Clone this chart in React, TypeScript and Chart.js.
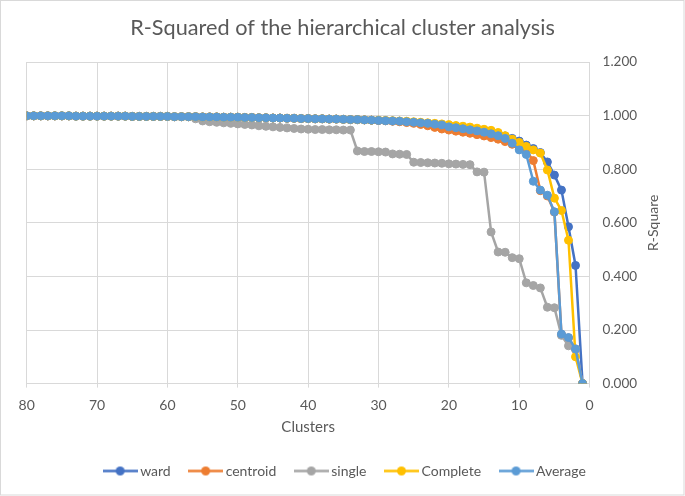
import React, { useEffect, useRef } from 'react';
import { Chart, registerables } from 'chart.js';

Chart.register(...registerables);

const chartTitle = 'R-Squared of the hierarchical cluster analysis';
const xTitle = 'Clusters';
const yTitle = 'R-Square';
const seriesNames = ['ward', 'centroid', 'single', 'Complete', 'Average'];
const seriesColors = ['#4472C4', '#ED7D31', '#A5A5A5', '#FFC000', '#5B9BD5'];

const clusters = [
  80, 79, 78, 77, 76, 75, 74, 73, 72, 71,
  70, 69, 68, 67, 66, 65, 64, 63, 62, 61,
  60, 59, 58, 57, 56, 55, 54, 53, 52, 51,
  50, 49, 48, 47, 46, 45, 44, 43, 42, 41,
  40, 39, 38, 37, 36, 35, 34, 33, 32, 31,
  30, 29, 28, 27, 26, 25, 24, 23, 22, 21,
  20, 19, 18, 17, 16, 15, 14, 13, 12, 11,
  10, 9, 8, 7, 6, 5, 4, 3, 2, 1,
];

const ward = [
  0.999, 0.999, 0.999, 0.999, 0.999, 0.999, 0.999, 0.998, 0.998, 0.998,
  0.998, 0.998, 0.998, 0.998, 0.998, 0.997, 0.997, 0.997, 0.997, 0.997,
  0.997, 0.996, 0.996, 0.996, 0.996, 0.995, 0.995, 0.995, 0.994, 0.994,
  0.994, 0.993, 0.993, 0.992, 0.992, 0.991, 0.991, 0.990, 0.990, 0.989,
  0.989, 0.988, 0.988, 0.987, 0.987, 0.986, 0.985, 0.985, 0.984, 0.983,
  0.982, 0.981, 0.980, 0.979, 0.977, 0.975, 0.973, 0.971, 0.968, 0.965,
  0.962, 0.958, 0.955, 0.951, 0.947, 0.942, 0.937, 0.931, 0.924, 0.915,
  0.905, 0.890, 0.877, 0.862, 0.827, 0.778, 0.722, 0.585, 0.441, 0.000,
];

const centroid = [
  0.999, 0.999, 0.999, 0.999, 0.999, 0.999, 0.999, 0.998, 0.998, 0.998,
  0.998, 0.998, 0.998, 0.998, 0.998, 0.997, 0.997, 0.997, 0.997, 0.997,
  0.997, 0.996, 0.996, 0.996, 0.996, 0.995, 0.995, 0.995, 0.994, 0.994,
  0.994, 0.993, 0.993, 0.992, 0.992, 0.991, 0.991, 0.990, 0.990, 0.989,
  0.989, 0.988, 0.988, 0.987, 0.987, 0.986, 0.985, 0.985, 0.984, 0.983,
  0.982, 0.981, 0.979, 0.977, 0.974, 0.971, 0.967, 0.962, 0.956, 0.950,
  0.946, 0.942, 0.938, 0.934, 0.929, 0.924, 0.918, 0.912, 0.903, 0.893,
  0.882, 0.868, 0.832, 0.720, 0.700, 0.640, 0.183, 0.170, 0.128, 0.000,
];

const single = [
  0.999, 0.999, 0.999, 0.999, 0.999, 0.999, 0.999, 0.998, 0.998, 0.998,
  0.998, 0.998, 0.998, 0.998, 0.998, 0.997, 0.997, 0.997, 0.997, 0.997,
  0.997, 0.996, 0.996, 0.996, 0.988, 0.980, 0.977, 0.975, 0.973, 0.971,
  0.969, 0.967, 0.965, 0.962, 0.960, 0.958, 0.956, 0.954, 0.952, 0.950,
  0.949, 0.948, 0.948, 0.947, 0.947, 0.946, 0.946, 0.868, 0.866, 0.866,
  0.865, 0.864, 0.857, 0.856, 0.855, 0.826, 0.825, 0.824, 0.823, 0.822,
  0.820, 0.819, 0.818, 0.817, 0.790, 0.789, 0.566, 0.491, 0.490, 0.470,
  0.466, 0.376, 0.366, 0.357, 0.285, 0.283, 0.180, 0.141, 0.130, 0.000,
];

const complete = [
  0.999, 0.999, 0.999, 0.999, 0.999, 0.999, 0.999, 0.998, 0.998, 0.998,
  0.998, 0.998, 0.998, 0.998, 0.998, 0.997, 0.997, 0.997, 0.997, 0.997,
  0.997, 0.996, 0.996, 0.996, 0.996, 0.995, 0.995, 0.995, 0.994, 0.994,
  0.994, 0.993, 0.993, 0.992, 0.992, 0.991, 0.991, 0.990, 0.990, 0.989,
  0.989, 0.988, 0.988, 0.987, 0.987, 0.986, 0.985, 0.985, 0.984, 0.983,
  0.983, 0.982, 0.981, 0.980, 0.979, 0.977, 0.975, 0.973, 0.971, 0.969,
  0.966, 0.963, 0.960, 0.957, 0.953, 0.949, 0.945, 0.937, 0.925, 0.912,
  0.900, 0.885, 0.872, 0.860, 0.797, 0.692, 0.646, 0.535, 0.100, 0.000,
];

const average = [
  0.999, 0.999, 0.999, 0.999, 0.999, 0.999, 0.999, 0.998, 0.998, 0.998,
  0.998, 0.998, 0.998, 0.998, 0.998, 0.997, 0.997, 0.997, 0.997, 0.997,
  0.997, 0.996, 0.996, 0.996, 0.996, 0.995, 0.995, 0.995, 0.994, 0.994,
  0.994, 0.993, 0.993, 0.992, 0.992, 0.991, 0.991, 0.990, 0.990, 0.989,
  0.989, 0.988, 0.988, 0.987, 0.987, 0.986, 0.985, 0.985, 0.984, 0.983,
  0.982, 0.981, 0.980, 0.979, 0.977, 0.975, 0.973, 0.971, 0.968, 0.965,
  0.958, 0.955, 0.951, 0.947, 0.943, 0.938, 0.932, 0.925, 0.915, 0.897,
  0.872, 0.855, 0.755, 0.722, 0.703, 0.641, 0.185, 0.172, 0.129, 0.000,
];

const seriesValues = [ward, centroid, single, complete, average];

const TEXT = '#595959';
const GRID = '#D9D9D9';
const FONT = 'Lato';

function legendMarker(color: string): HTMLCanvasElement {
  const c = document.createElement('canvas');
  c.width = 35;
  c.height = 11;
  const g = c.getContext('2d')!;
  g.strokeStyle = color;
  g.lineWidth = 2.5;
  g.beginPath();
  g.moveTo(0, 5.5);
  g.lineTo(35, 5.5);
  g.stroke();
  g.fillStyle = color;
  g.beginPath();
  g.arc(17.5, 5.5, 4.5, 0, Math.PI * 2);
  g.fill();
  return c;
}

const decorPlugin = {
  id: 'decor',
  afterLayout(chart: any) {
    if (chart.legend) {
      chart.legend.left += 4;
      chart.legend.right += 4;
    }
  },
  beforeDraw(chart: any) {
    const ctx = chart.ctx;
    ctx.save();
    ctx.fillStyle = '#ffffff';
    ctx.fillRect(0, 0, chart.width, chart.height);
    ctx.strokeStyle = GRID;
    ctx.lineWidth = 1;
    ctx.strokeRect(0.5, 0.5, chart.width - 1.5, chart.height - 1.5);
    ctx.restore();
  },
  afterDraw(chart: any) {
    const ctx = chart.ctx;
    const area = chart.chartArea;
    const ys = chart.scales.y;
    ctx.save();
    ctx.translate(ys.left + 63.5, (area.top + area.bottom) / 2);
    ctx.rotate(-Math.PI / 2);
    ctx.font = `14px ${FONT}`;
    ctx.fillStyle = TEXT;
    ctx.textAlign = 'center';
    ctx.textBaseline = 'middle';
    ctx.fillText(yTitle, 0, 0);
    ctx.restore();
  },
};

export default function App() {
  const ref = useRef<HTMLCanvasElement | null>(null);

  useEffect(() => {
    if (!ref.current) return;
    Chart.defaults.font.family = FONT;
    const markers = seriesColors.map(legendMarker);
    const datasets = seriesNames.map((name, i) => ({
      label: name,
      data: clusters.map((c, k) => ({ x: c, y: seriesValues[i][k] })),
      borderColor: seriesColors[i],
      backgroundColor: seriesColors[i],
      pointBackgroundColor: seriesColors[i],
      pointBorderColor: seriesColors[i],
      borderWidth: 2.5,
      pointRadius: 4,
      pointBorderWidth: 1,
      pointHoverRadius: 4,
      order: seriesNames.length - i,
      fill: false,
    }));

    const chart = new Chart(ref.current, {
      type: 'line',
      data: { datasets },
      plugins: [decorPlugin],
      options: {
        animation: false,
        responsive: false,
        devicePixelRatio: window.devicePixelRatio || 1,
        layout: { padding: { left: 0, right: 0, top: 0, bottom: 8 } },
        plugins: {
          tooltip: { enabled: false },
          title: {
            display: true,
            text: chartTitle,
            color: TEXT,
            font: { size: 21.7, weight: 'normal', family: FONT },
            padding: { top: 15, bottom: 20.96 },
          },
          legend: {
            position: 'bottom',
            labels: {
              usePointStyle: true,
              pointStyleWidth: 26,
              color: TEXT,
              font: { size: 14, family: FONT },
              padding: 22,
              sort: (a: any, b: any) => a.datasetIndex - b.datasetIndex,
              generateLabels: (ch: any) => {
                const items = (Chart.defaults.plugins.legend.labels as any).generateLabels(ch);
                return items.map((it: any) => ({ ...it, pointStyle: markers[it.datasetIndex] }));
              },
            },
          },
        },
        scales: {
          x: {
            type: 'linear',
            reverse: true,
            min: 0,
            max: 80,
            ticks: { stepSize: 10, color: TEXT, font: { size: 14 }, padding: 9.5 },
            grid: { color: GRID, tickLength: 4, drawTicks: true },
            border: { color: GRID },
            title: {
              display: true,
              text: xTitle,
              color: TEXT,
              font: { size: 15 },
              padding: { top: 4, bottom: 6 },
            },
            afterFit: (s: any) => {
              s.height = 58.4;
            },
          },
          y: {
            type: 'linear',
            position: 'right',
            min: 0,
            max: 1.2,
            ticks: {
              stepSize: 0.2,
              color: TEXT,
              font: { size: 13.5 },
              padding: 13,
              callback: (v: any) => Number(v).toFixed(3),
            },
            grid: { color: GRID, drawTicks: false },
            border: { display: false },
            afterFit: (s: any) => {
              s.width = 95.4;
            },
          },
          spacer: {
            type: 'linear',
            position: 'left',
            display: true,
            ticks: { display: false },
            grid: { display: false },
            border: { display: false },
            afterFit: (s: any) => {
              s.width = 26.7;
            },
          },
        },
      } as any,
    });
    return () => chart.destroy();
  }, []);

  return (
    <div style={{ position: 'fixed', left: 0, top: 0, width: 685, height: 496, background: '#fff' }}>
      <canvas ref={ref} width={685} height={496} style={{ width: 685, height: 496, display: 'block' }} />
    </div>
  );
}
